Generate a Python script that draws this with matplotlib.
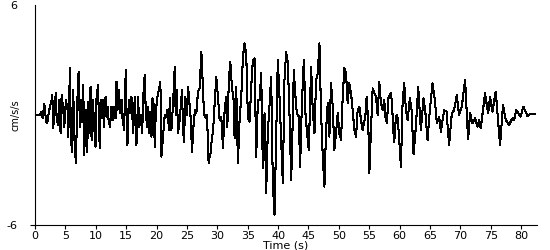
import matplotlib
matplotlib.use('Agg')
import matplotlib.pyplot as plt

# turning points: time (s) and acceleration (cm/s/s)
time_s = [
    0.0, 0.8, 1.09, 1.26, 1.53, 1.75, 1.92, 2.02, 2.3, 2.46, 2.74, 2.85, 3.01, 3.17,
    3.45, 3.56, 3.83, 4.0, 4.21, 4.38, 4.65, 4.82, 5.09, 5.36, 5.47, 5.75, 5.91, 6.13,
    6.29, 6.46, 6.73, 6.95, 7.17, 7.39, 7.55, 7.77, 7.94, 8.1, 8.32, 8.59, 8.76, 8.92,
    9.14, 9.31, 9.52, 9.74, 9.96, 10.13, 10.4, 10.51, 10.67, 10.84, 11.06, 11.22, 11.39,
    11.49, 11.66, 11.77, 11.93, 12.1, 12.32, 12.59, 12.75, 13.03, 13.25, 13.41, 13.57,
    13.79, 13.96, 14.23, 14.39, 14.67, 14.78, 14.94, 15.05, 15.21, 15.43, 15.6,
    15.87, 16.15, 16.42, 16.69, 16.97, 17.13, 17.41, 17.62, 17.9, 18.06, 18.23, 18.45,
    18.61, 18.77, 18.99, 19.16, 19.32, 19.54, 19.7, 19.87, 20.14, 20.42, 20.63, 20.8,
    21.07, 21.35, 21.62, 21.79, 22.06, 22.17, 22.44, 22.72, 22.99, 23.15, 23.32, 23.54,
    23.81, 23.97, 24.19, 24.36, 24.52, 24.74, 25.01, 25.18, 25.45, 25.62, 25.83, 26.11,
    26.33, 26.55, 26.82, 27.09, 27.37, 27.64, 27.8, 28.08, 28.3, 28.57, 28.74, 28.9,
    29.12, 29.28, 29.56, 29.83, 30.1, 30.38, 30.65, 30.93, 31.2, 31.47, 31.64, 31.91,
    32.13, 32.4, 32.68, 32.84, 33.11, 33.39, 33.66, 33.94, 34.21, 34.48, 34.76, 35.03,
    35.3, 35.58, 35.85, 36.12, 36.4, 36.67, 36.95, 37.22, 37.49, 37.77, 38.04, 38.31,
    38.48, 38.86, 39.13, 39.41, 39.68, 39.95, 40.23, 40.5, 40.78, 41.05, 41.32, 41.6,
    41.87, 42.15, 42.31, 42.58, 42.86, 43.08, 43.41, 43.62, 43.9, 44.23, 44.5, 44.77,
    45.05, 45.43, 45.7, 45.98, 46.25, 46.52, 46.8, 47.07, 47.35, 47.62, 47.89, 48.17,
    48.44, 48.71, 48.99, 49.26, 49.53, 49.81, 50.08, 50.36, 50.63, 50.9, 51.18, 51.45,
    51.72, 52.0, 52.27, 52.55, 52.82, 53.09, 53.37, 53.64, 53.91, 54.35, 54.57, 54.84,
    55.01, 55.28, 55.56, 55.83, 56.1, 56.38, 56.65, 56.92, 57.2, 57.47, 57.64, 57.91,
    58.13, 58.56, 58.73, 58.95, 59.11, 59.39, 59.6, 59.82, 60.21, 60.48, 60.75, 61.03,
    61.3, 61.69, 61.96, 62.29, 62.67, 63.05, 63.49, 63.93, 64.2, 64.59, 64.97, 65.41,
    65.79, 66.12, 66.5, 66.78, 67.32, 67.71, 68.14, 68.58, 68.96, 69.4, 69.78, 70.22,
    70.77, 71.26, 71.59, 71.98, 72.41, 72.8, 73.07, 73.34, 74.05, 74.55, 74.88, 75.26,
    75.81, 76.52, 77.01, 77.45, 78.0, 78.55, 78.82, 79.2, 79.91, 80.35, 80.73, 81.01,
    81.5, 82.22,
]
accel = [
    0.02, 0.0, 0.18, -0.18, 0.6, -0.09, -0.45, -0.42, 0.18, 0.45, 0.82, 1.09, -0.73, 0.45,
    1.18, -0.27, -0.55, 0.82, -1.0, 1.09, 0.36, -0.64, 0.82, 0.27, -1.18, 2.55, -1.36, -2.0,
    1.36, -1.18, -2.64, 0.64, 2.36, -0.64, 0.82, -0.36, 1.64, -2.18, 0.27, -2.0, 0.73, -1.0,
    1.55, -1.36, 0.82, -0.64, -1.73, 1.0, 1.64, -0.64, -1.82, 0.82, -0.18, 0.82, -0.64,
    0.82, 1.0, -0.09, 0.45, -0.27, -0.64, 0.45, -0.27, 0.45, -0.18, 1.82, 0.27,
    1.36, 0.09, 0.82, -0.18, -0.82, 0.82, 2.45, 0.27, -1.64, 0.82, 0.09,
    1.0, -1.0, 1.0, -1.64, 1.0, -0.64, 0.0, -1.0, 1.64, 2.18, 0.09, -0.64,
    0.45, -1.0, 0.18, -1.18, 0.91, 0.55, -1.73, 0.18, 1.0, 1.45, 1.82, -2.27,
    -1.18, 0.0, -0.09, 0.27, -0.82, 0.91, -0.82, 0.64, 2.64, 0.0, 1.36, -1.0,
    -0.27, 0.45, 1.36, -0.82, -1.45, 1.0, 0.0, 1.55, 0.45, -0.18, -2.0, -0.45,
    0.27, 0.09, 1.27, 1.45, 3.45, 1.45, 0.09, -0.18, 0.0, -2.64, -2.27, -2.09,
    -1.18, -1.0, 0.64, 2.09, 1.0, -0.27, -0.09, -1.82, 0.27, 1.0, -0.64, 1.91,
    2.91, 1.55, 0.82, -1.27, 1.55, -2.64, -0.27, 1.0, 3.18, 3.91, 3.27, -0.18,
    -0.36, 1.55, 3.0, 3.09, -2.27, 0.82, 0.82, 2.27, -2.91, 0.09, -4.27, -0.82,
    -0.09, 2.09, -3.73, -5.45, -1.36, 3.0, 1.0, -1.36, -3.73, 1.91, 3.45, 2.82,
    0.09, -3.55, -1.73, 2.45, 1.0, 0.09, -0.09, -2.82, 0.45, 3.0, 0.09, -1.0,
    -1.91, 2.64, 0.27, -1.0, 1.91, 2.27, 3.91, 0.09, -2.27, -3.91, -0.82, 0.64,
    -1.18, 1.73, 0.45, -1.91, -1.0, 0.09, -1.0, -1.36, 1.0, 2.55, 2.27, 0.64,
    1.73, 1.18, 0.27, -0.82, -1.18, 0.27, 0.45, -0.27, -0.82, -0.09, 1.0, -0.45,
    -3.18, -0.82, 1.45, 1.18, 1.0, 0.0, 1.82, 0.64, 0.27, 0.82, -0.09, -0.45,
    0.91, 1.18, 0.73, -0.82, -1.45, -0.09, 0.0, -0.82, -2.82, 0.64, 1.73, 0.27,
    -0.27, 0.91, 0.27, -2.13, -0.64, 1.55, -0.82, 0.91, 0.27, -1.36, 0.27, 1.73,
    0.82, -0.45, -0.09, -0.91, 0.27, 0.18, -1.64, 0.09, 0.27, 1.09, 0.0, 0.45,
    1.91, -1.33, 0.09, -0.45, -0.18, -0.64, -0.27, -0.73, 1.18, 0.09, 1.0, 0.18,
    1.27, -1.64, 0.55, -0.27, -0.55, -0.18, -0.27, 0.27, -0.09, 0.45, 0.18, -0.05,
    0.05, 0.05,
]

x_ticks = list(range(0, 85, 5))
y_ticks = [-6, 6]

fig = plt.figure(figsize=(5.5, 2.5), dpi=100)
ax = fig.add_axes([35 / 550, 25 / 250, 502 / 550, 220 / 250])

ax.plot(time_s, accel, color='black', linewidth=0.75, antialiased=False)

ax.set_xlim(0, 82.6)
ax.set_ylim(-6, 6)

for side in ['top', 'right']:
    ax.spines[side].set_visible(False)
for side in ['left', 'bottom']:
    ax.spines[side].set_linewidth(0.8)
    ax.spines[side].set_color('black')

ax.set_xticks(x_ticks)
ax.set_xticklabels([str(v) for v in x_ticks])
ax.tick_params(axis='x', length=3, width=0.8, pad=1, labelsize=8)

ax.set_yticks(y_ticks)
ax.set_yticklabels([str(v) for v in y_ticks])
ax.tick_params(axis='y', length=3.6, width=0.8, pad=9, labelsize=8)
ax.yaxis.get_major_ticks()[1].tick1line.set_markersize(0)

ax.set_xlabel('Time (s)', fontsize=8, labelpad=0)
ax.set_ylabel('cm/s/s', fontsize=7, labelpad=-10)

fig.savefig('out.png', dpi=100)
